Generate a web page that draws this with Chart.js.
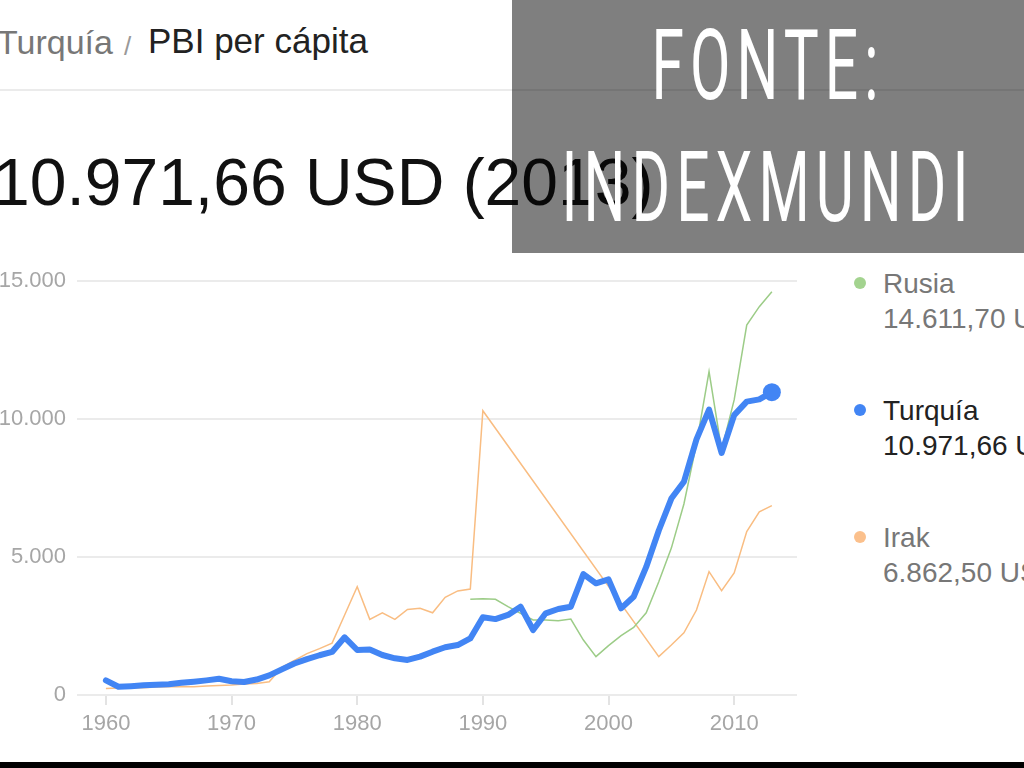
<!DOCTYPE html>
<html>
<head>
<meta charset="utf-8">
<script src="https://cdn.jsdelivr.net/npm/chart.js@4.4.1/dist/chart.umd.min.js"></script>
<style>
  html, body { margin: 0; padding: 0; background: #fff; }
  body { width: 1024px; height: 768px; position: relative; overflow: hidden; font-family: "Liberation Sans", Arial, sans-serif; }
  .abs { position: absolute; white-space: nowrap; }
  #crumb { top: 25px; left: -3px; font-size: 34px; line-height: 34px; color: #777; }
  #slash { top: 29px; left: 124px; font-size: 26px; line-height: 34px; color: #999; }
  #metric { top: 24px; left: 148px; font-size: 35px; line-height: 34px; color: #222; }
  #sep { top: 89px; left: 0; width: 1024px; height: 2px; background: #ebebeb; }
  #big { top: 149px; left: -7px; font-size: 66px; line-height: 66px; color: #111; }
  #chartBox { top: 250px; left: 0; }
  .legDot { position: absolute; width: 12px; height: 12px; border-radius: 6px; }
  .legText { position: absolute; left: 883px; font-size: 28px; line-height: 35px; white-space: nowrap; }
  #overlay { top: 0; left: 512px; width: 512px; height: 253px; background: rgba(0,0,0,0.5); overflow: hidden; }
  .fonte { position: absolute; left: 268px; width: 1000px; text-align: center; color: #fff;
           font-family: Roboto, "DejaVu Sans", sans-serif; font-weight: 400; font-size: 98px; line-height: 98px; }
  .fonte span { display: inline-block; transform: scaleX(0.6); letter-spacing: 10px; }
  #band { top: 762px; left: 0; width: 1024px; height: 6px; background: #000; }
</style>
</head>
<body>

<div class="abs" id="crumb">Turquía</div>
<div class="abs" id="slash">/</div>
<div class="abs" id="metric">PBI per cápita</div>
<div class="abs" id="sep"></div>
<div class="abs" id="big">10.971,66 USD (2013)</div>

<div class="abs" id="chartBox"><canvas id="myChart" width="820" height="512"></canvas></div>

<div id="legend"></div>

<div class="abs" id="overlay"></div>
<div class="fonte" style="top:17px"><span>FONTE:</span></div>
<div class="fonte" style="top:139px"><span>INDEXMUNDI</span></div>
<div class="abs" id="band"></div>

<script>
// Years 1960 - 2013
const years = [1960,1961,1962,1963,1964,1965,1966,1967,1968,1969,
               1970,1971,1972,1973,1974,1975,1976,1977,1978,1979,
               1980,1981,1982,1983,1984,1985,1986,1987,1988,1989,
               1990,1991,1992,1993,1994,1995,1996,1997,1998,1999,
               2000,2001,2002,2003,2004,2005,2006,2007,2008,2009,
               2010,2011,2012,2013]

// PBI per cápita (USD)
const turquia = [530,300,320,350,370,390,440,480,530,590,
                 500,470,560,710,930,1140,1300,1440,1560,2090,
                 1630,1650,1450,1330,1270,1390,1570,1730,1810,2050,
                 2815,2750,2900,3200,2355,2960,3115,3200,4380,4045,
                 4190,3140,3560,4640,5960,7117,7727,9260,10340,8770,
                 10140,10630,10710,10971.66]

const rusia = [null,null,null,null,null,null,null,null,null,null,
               null,null,null,null,null,null,null,null,null,null,
               null,null,null,null,null,null,null,null,null,3467,
               3490,3467,3200,2960,2720,2720,2690,2750,1990,1390,
               1790,2150,2450,2976,4102,5323,6920,9101,11715,8880,
               10690,13400,14070,14611.70]

const irak = [240,250,260,260,290,300,310,300,330,340,
              360,400,420,480,1000,1250,1500,1680,1880,2900,
              3925,2740,2980,2740,3100,3140,2980,3540,3770,3840,
              10300,null,null,null,null,null,null,null,null,null,
              null,null,null,null,1390,1810,2250,3080,4470,3780,
              4420,5920,6640,6862.50]

const decadeTicks = [1960, 1970, 1980, 1990, 2000, 2010]
const yTicks = [0, 5000, 10000, 15000]

// Legend entries: label, value text, colour, text colour
const legendNames = ['Rusia', 'Turquía', 'Irak']
const legendValues = ['14.611,70 USD', '10.971,66 USD', '6.862,50 USD']
const legendColors = ['#a3d38f', '#4285f4', '#fbc08c']
const legendTextColors = ['#777', '#222', '#777']

function toPoints(values) {
    return years.map((y, i) => ({ x: y, y: values[i] }))
}

function dotFormat(v) {
    return String(v).replace(/\B(?=(\d{3})+(?!\d))/g, '.')
}

function buildLegend() {
    let legend = document.getElementById('legend')
    for (let i = 0; i < legendNames.length; i++) {
        let top = 266 + i * 127
        let dot = document.createElement('div')
            dot.className = 'legDot'
            dot.style.left = '854px'
            dot.style.top = (top + 11) + 'px'
            dot.style.background = legendColors[i]
            legend.appendChild(dot)
        let txt = document.createElement('div')
            txt.className = 'legText'
            txt.style.top = top + 'px'
            txt.style.color = legendTextColors[i]
            txt.innerHTML = legendNames[i] + '<br>' + legendValues[i]
            legend.appendChild(txt)
    }
}

function createChart() {
    const lastIdx = years.length - 1
    const ctx = document.getElementById('myChart').getContext('2d')
    const myChart = new Chart(ctx, {
        type: 'line',
        data: {
            datasets: [{
                label: 'Turquía',
                data: toPoints(turquia),
                borderColor: '#4285f4',
                backgroundColor: '#4285f4',
                borderWidth: 6,
                pointRadius: c => c.dataIndex === lastIdx ? 9 : 0,
                pointBorderWidth: 0,
                borderJoinStyle: 'round',
                borderCapStyle: 'round',
                order: 0
            }, {
                label: 'Rusia',
                data: toPoints(rusia),
                borderColor: '#9ccc87',
                borderWidth: 1.5,
                pointRadius: 0,
                order: 1
            }, {
                label: 'Irak',
                data: toPoints(irak),
                borderColor: '#f9bd82',
                borderWidth: 1.5,
                pointRadius: 0,
                spanGaps: true,
                order: 2
            }]
        },
        options: {
            responsive: false,
            animation: false,
            layout: { padding: { top: 31, right: 23, left: 0, bottom: 0 } },
            plugins: { legend: { display: false }, tooltip: { enabled: false } },
            scales: {
                x: {
                    type: 'linear',
                    min: 1957.7,
                    max: 2015,
                    afterBuildTicks: axis => { axis.ticks = decadeTicks.map(v => ({ value: v })) },
                    afterFit: axis => { axis.height = 67 },
                    border: { display: false },
                    grid: { drawOnChartArea: false, drawTicks: true, tickLength: 10, color: '#e3e3e3', lineWidth: 2 },
                    ticks: {
                        padding: 6,
                        color: '#a6a6a6',
                        font: { family: 'Liberation Sans', size: 22 },
                        maxRotation: 0,
                        callback: v => String(v)
                    }
                },
                y: {
                    min: 0,
                    max: 15000,
                    afterBuildTicks: axis => { axis.ticks = yTicks.map(v => ({ value: v })) },
                    afterFit: axis => { axis.width = 77 },
                    border: { display: false },
                    grid: { drawTicks: false, color: '#ebebeb', lineWidth: 2 },
                    ticks: {
                        padding: 11,
                        color: '#a6a6a6',
                        font: { family: 'Liberation Sans', size: 22 },
                        callback: v => dotFormat(v)
                    }
                }
            }
        }
    })
}

buildLegend()
createChart()
</script>
</body>
</html>
